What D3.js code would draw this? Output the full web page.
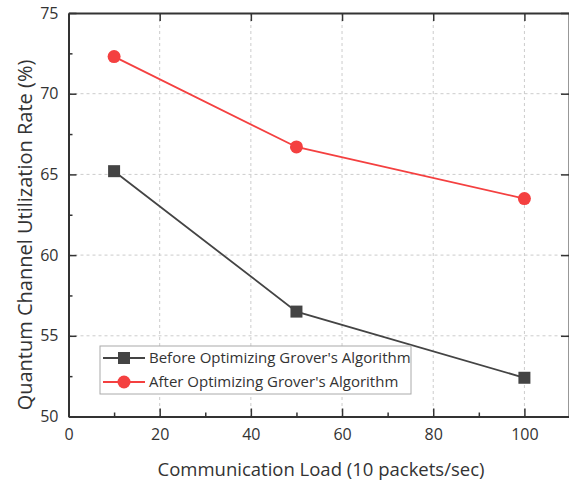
<!DOCTYPE html>
<meta charset="utf-8">
<style>
body { margin: 0; background: #fff; }
text { font-family: "Open Sans", sans-serif; fill: #333; }
.grid line { stroke: #ccc; stroke-dasharray: 3,3; stroke-width: 1; }
</style>
<svg width="569" height="486"></svg>
<script src="https://cdn.jsdelivr.net/npm/d3@7"></script>
<script>
var loads = [10, 50, 100];
var before = [65.2, 56.5, 52.4];
var after = [72.3, 66.7, 63.5];
var seriesNames = ["Before Optimizing Grover's Algorithm", "After Optimizing Grover's Algorithm"];
var xTicks = [0, 20, 40, 60, 80, 100];
var yTicks = [50, 55, 60, 65, 70, 75];

var svg = d3.select("svg");
var pLeft = 68.5, pRight = 570, pTop = 13, pBottom = 416.5;

var x = d3.scaleLinear().domain([0, 110]).range([pLeft, pRight]);
var y = d3.scaleLinear().domain([50, 75]).range([pBottom, pTop]);

// grid
var grid = svg.append("g").attr("class", "grid");
grid.selectAll(".gx").data(xTicks.slice(1)).enter().append("line")
    .attr("x1", function(d) { return x(d); }).attr("x2", function(d) { return x(d); })
    .attr("y1", pTop).attr("y2", pBottom);
grid.selectAll(".gy").data(yTicks.slice(1, -1)).enter().append("line")
    .attr("y1", function(d) { return y(d); }).attr("y2", function(d) { return y(d); })
    .attr("x1", pLeft).attr("x2", pRight);

// axes (ticks inward, mirrored)
var axisColor = "#333";
function styleAxis(g) {
  g.select(".domain").attr("stroke", axisColor).attr("stroke-width", 2);
  g.selectAll(".tick line").attr("stroke", axisColor).attr("stroke-width", 1.5);
}
var xMinor = d3.range(10, 110, 20);
var yMinor = d3.range(52.5, 75, 5);

var xb = svg.append("g").attr("transform", "translate(0," + pBottom + ")")
    .call(d3.axisBottom(x).tickValues(xTicks).tickSizeInner(-8).tickSizeOuter(0).tickPadding(12));
styleAxis(xb);
xb.selectAll("text").attr("font-size", 16).attr("fill", "#333").attr("font-family", "Open Sans");
var xbm = svg.append("g").attr("transform", "translate(0," + pBottom + ")")
    .call(d3.axisBottom(x).tickValues(xMinor).tickSize(-4).tickFormat(""));
styleAxis(xbm); xbm.select(".domain").remove();

var xt = svg.append("g").attr("transform", "translate(0," + pTop + ")")
    .call(d3.axisTop(x).tickValues(xTicks.slice(1)).tickSizeInner(-8).tickSizeOuter(0).tickFormat(""));
styleAxis(xt);

var yl = svg.append("g").attr("transform", "translate(" + pLeft + ",0)")
    .call(d3.axisLeft(y).tickValues(yTicks).tickSizeInner(-8).tickSizeOuter(0).tickPadding(10));
styleAxis(yl);
yl.selectAll("text").attr("font-size", 16).attr("fill", "#333").attr("font-family", "Open Sans");
var ylm = svg.append("g").attr("transform", "translate(" + pLeft + ",0)")
    .call(d3.axisLeft(y).tickValues(yMinor).tickSize(-4).tickFormat(""));
styleAxis(ylm); ylm.select(".domain").remove();

var yr = svg.append("g").attr("transform", "translate(" + (pRight - 1) + ",0)")
    .call(d3.axisRight(y).tickValues(yTicks).tickSizeInner(-8).tickSizeOuter(0).tickFormat(""));
styleAxis(yr);

// titles
svg.append("text").attr("x", 321).attr("y", 476)
    .attr("text-anchor", "middle").attr("font-size", 18.5).text("Communication Load (10 packets/sec)");
svg.append("text").attr("transform", "translate(32,235) rotate(-90)")
    .attr("text-anchor", "middle").attr("font-size", 20).text("Quantum Channel Utilization Rate (%)");

// series
var colors = ["#444444", "#f44040"];
var line = d3.line().x(function(d, i) { return x(loads[i]); }).y(function(d) { return y(d); });

svg.append("path").datum(before).attr("d", line).attr("fill", "none")
    .attr("stroke", colors[0]).attr("stroke-width", 1.8);
svg.append("path").datum(after).attr("d", line).attr("fill", "none")
    .attr("stroke", colors[1]).attr("stroke-width", 1.8);

svg.selectAll(".sq").data(before).enter().append("rect")
    .attr("x", function(d, i) { return x(loads[i]) - 6; })
    .attr("y", function(d) { return y(d) - 6; })
    .attr("width", 12).attr("height", 12).attr("fill", colors[0]);
svg.selectAll(".ci").data(after).enter().append("circle")
    .attr("cx", function(d, i) { return x(loads[i]); })
    .attr("cy", function(d) { return y(d); })
    .attr("r", 6.5).attr("fill", colors[1]);

// legend
var lg = svg.append("g").attr("transform", "translate(100,346)");
lg.append("rect").attr("width", 311).attr("height", 48)
    .attr("fill", "#fff").attr("stroke", "#aaa").attr("stroke-width", 1);
seriesNames.forEach(function(name, i) {
  var cy = 12 + i * 24;
  lg.append("line").attr("x1", 3).attr("x2", 45).attr("y1", cy).attr("y2", cy)
      .attr("stroke", colors[i]).attr("stroke-width", 1.8);
  if (i === 0) {
    lg.append("rect").attr("x", 18).attr("y", cy - 6).attr("width", 12).attr("height", 12).attr("fill", colors[i]);
  } else {
    lg.append("circle").attr("cx", 24).attr("cy", cy).attr("r", 6.5).attr("fill", colors[i]);
  }
  lg.append("text").attr("x", 49).attr("y", cy + 5).attr("font-size", 15).text(name);
});
</script>
